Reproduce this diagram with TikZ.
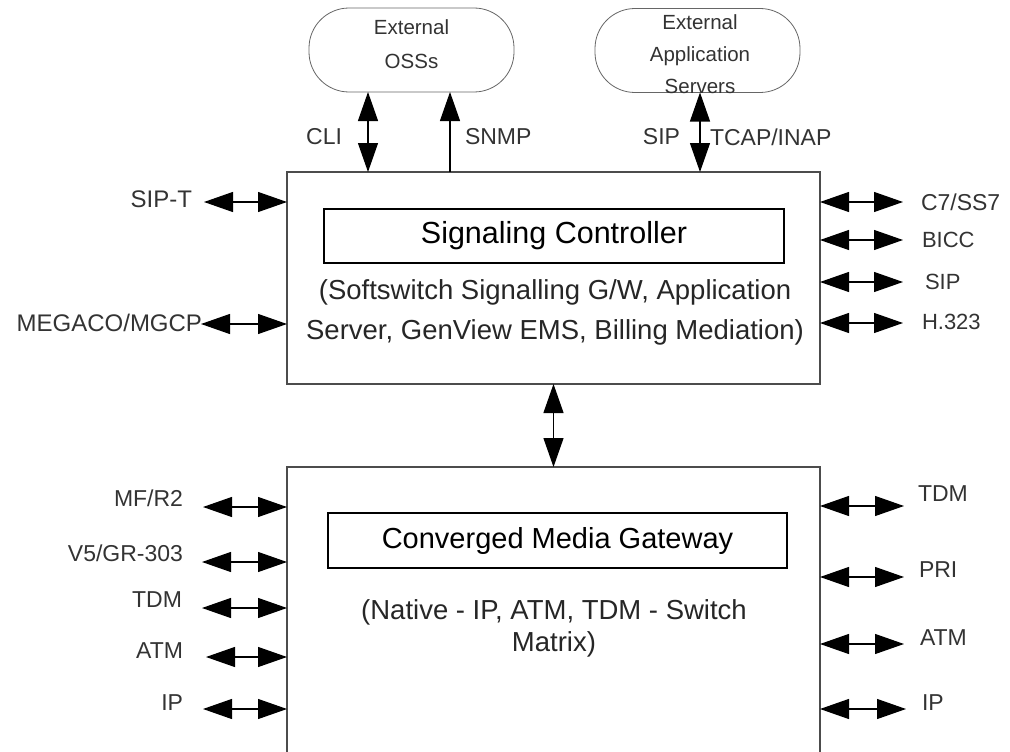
\documentclass[tikz,border=0pt]{standalone}
\usepackage{fontspec}
\setmainfont{Liberation Sans}
\usetikzlibrary{arrows.meta}
\begin{document}
\begin{tikzpicture}[x=1pt,y=-1pt,
  every node/.style={inner sep=0pt, outer sep=0pt},
  lbl/.style={font=\fontsize{23}{24}\selectfont, text=black!80},
  cloudbox/.style={draw=black!60, line width=0.8pt, rounded corners=40pt, minimum width=205pt, minimum height=84pt},
  outerbox/.style={draw=black!70, line width=1.3pt, minimum width=533pt},
  innerbox/.style={draw=black, line width=1.6pt},
  desc/.style={font=\fontsize{27.5}{40}\selectfont, text=black!85, align=center},
  dbl/.style={line width=1.2pt, {Triangle[length=29pt,width=20pt]}-{Triangle[length=29pt,width=20pt]}},
  sgl/.style={line width=1.2pt, -{Triangle[length=29pt,width=20pt]}}
]
\useasboundingbox (0,0) rectangle (1010,752);
% clouds
\node[cloudbox] (oss) at (411.5,50) {};
\node[font=\fontsize{20.5}{34}\selectfont, text=black!80, align=center] (osst) at (411.5,44) {External\\OSSs};
\node[cloudbox] (aps) at (697.5,50.5) {};
\node[font=\fontsize{20.5}{32}\selectfont, text=black!80, align=center] (apst) at (700,54) {External\\Application\\Servers};
% main boxes
\node[outerbox, minimum height=212pt] (sig) at (553.5,278) {};
\node[innerbox, minimum width=460pt, minimum height=54pt, font=\fontsize{30.5}{32}\selectfont] (sigc) at (554,236) {Signaling Controller};
\node[desc] (sigd) at (555,312) {(Softswitch Signalling G/W, Application\\Server, GenView EMS, Billing Mediation)};
\node[minimum width=533pt, minimum height=300pt] (mgw) at (553.5,617) {};
\draw[draw=black!70, line width=1.3pt] (mgw.south west) -- (mgw.north west) -- (mgw.north east) -- (mgw.south east);
\node[innerbox, minimum width=459pt, minimum height=55pt, font=\fontsize{29}{32}\selectfont] (mgwc) at (557.5,540.5) {Converged Media Gateway};
\node[desc, font=\fontsize{27.5}{32}\selectfont] (mgwd) at (554,628) {(Native - IP, ATM, TDM - Switch\\Matrix)};
% top connectors
\draw[dbl] (oss.south -| 368,0) -- (sig.north -| 368,0);
\draw[sgl] (sig.north -| 450,0) -- (oss.south -| 450,0);
\draw[dbl] (aps.south -| 700,0) -- (sig.north -| 700,0);
\node[lbl, anchor=east] (cli) at (342,137) {CLI};
\node[lbl, anchor=west] (snmp) at (465,137) {SNMP};
\node[lbl, anchor=east] (sipa) at (680,137) {SIP};
\node[lbl, anchor=west] (tcap) at (710,137) {TCAP/INAP};
% between boxes
\draw[dbl] (sig.south) -- (mgw.north);
% signaling left
\coordinate (l1) at (204,202);
\coordinate (l2) at (201,324);
\draw[dbl] (l1) -- (sig.west |- l1);
\draw[dbl] (l2) -- (sig.west |- l2);
\node[lbl, anchor=east, font=\fontsize{24}{24}\selectfont] (sipt) at (192,199) {SIP-T};
\node[lbl, anchor=east, font=\fontsize{24}{24}\selectfont] (megaco) at (202,323) {MEGACO/MGCP};
% signaling right
\coordinate (r1) at (903,202);
\coordinate (r2) at (903,240);
\coordinate (r3) at (903,282);
\coordinate (r4) at (903,323);
\foreach \c in {r1,r2,r3,r4} {\draw[dbl] (sig.east |- \c) -- (\c);}
\node[lbl, anchor=west] (c7) at (921,202) {C7/SS7};
\node[lbl, anchor=west, font=\fontsize{22}{24}\selectfont] (bicc) at (922,240) {BICC};
\node[lbl, anchor=west, font=\fontsize{22}{24}\selectfont] (sipr) at (925,282) {SIP};
\node[lbl, anchor=west, font=\fontsize{22}{24}\selectfont] (h323) at (922,322) {H.323};
% media left
\coordinate (ml1) at (203,507);
\coordinate (ml2) at (202,562);
\coordinate (ml3) at (202,608);
\coordinate (ml4) at (206,657);
\coordinate (ml5) at (203,709);
\foreach \c in {ml1,ml2,ml3,ml4,ml5} {\draw[dbl] (\c) -- (mgw.west |- \c);}
\node[lbl, anchor=east] (mf) at (183,498) {MF/R2};
\node[lbl, anchor=east] (v5) at (183,553) {V5/GR-303};
\node[lbl, anchor=east] (tdml) at (182,600) {TDM};
\node[lbl, anchor=east] (atml) at (183,651) {ATM};
\node[lbl, anchor=east] (ipl) at (183,703) {IP};
% media right
\coordinate (mr1) at (904,506);
\coordinate (mr2) at (904,577);
\coordinate (mr3) at (904,644);
\coordinate (mr4) at (906,709);
\foreach \c in {mr1,mr2,mr3,mr4} {\draw[dbl] (mgw.east |- \c) -- (\c);}
\node[lbl, anchor=west] (tdmr) at (918,494) {TDM};
\node[lbl, anchor=west] (prir) at (919,570) {PRI};
\node[lbl, anchor=west] (atmr) at (920,638) {ATM};
\node[lbl, anchor=west] (ipr) at (922,703) {IP};
\end{tikzpicture}
\end{document}
